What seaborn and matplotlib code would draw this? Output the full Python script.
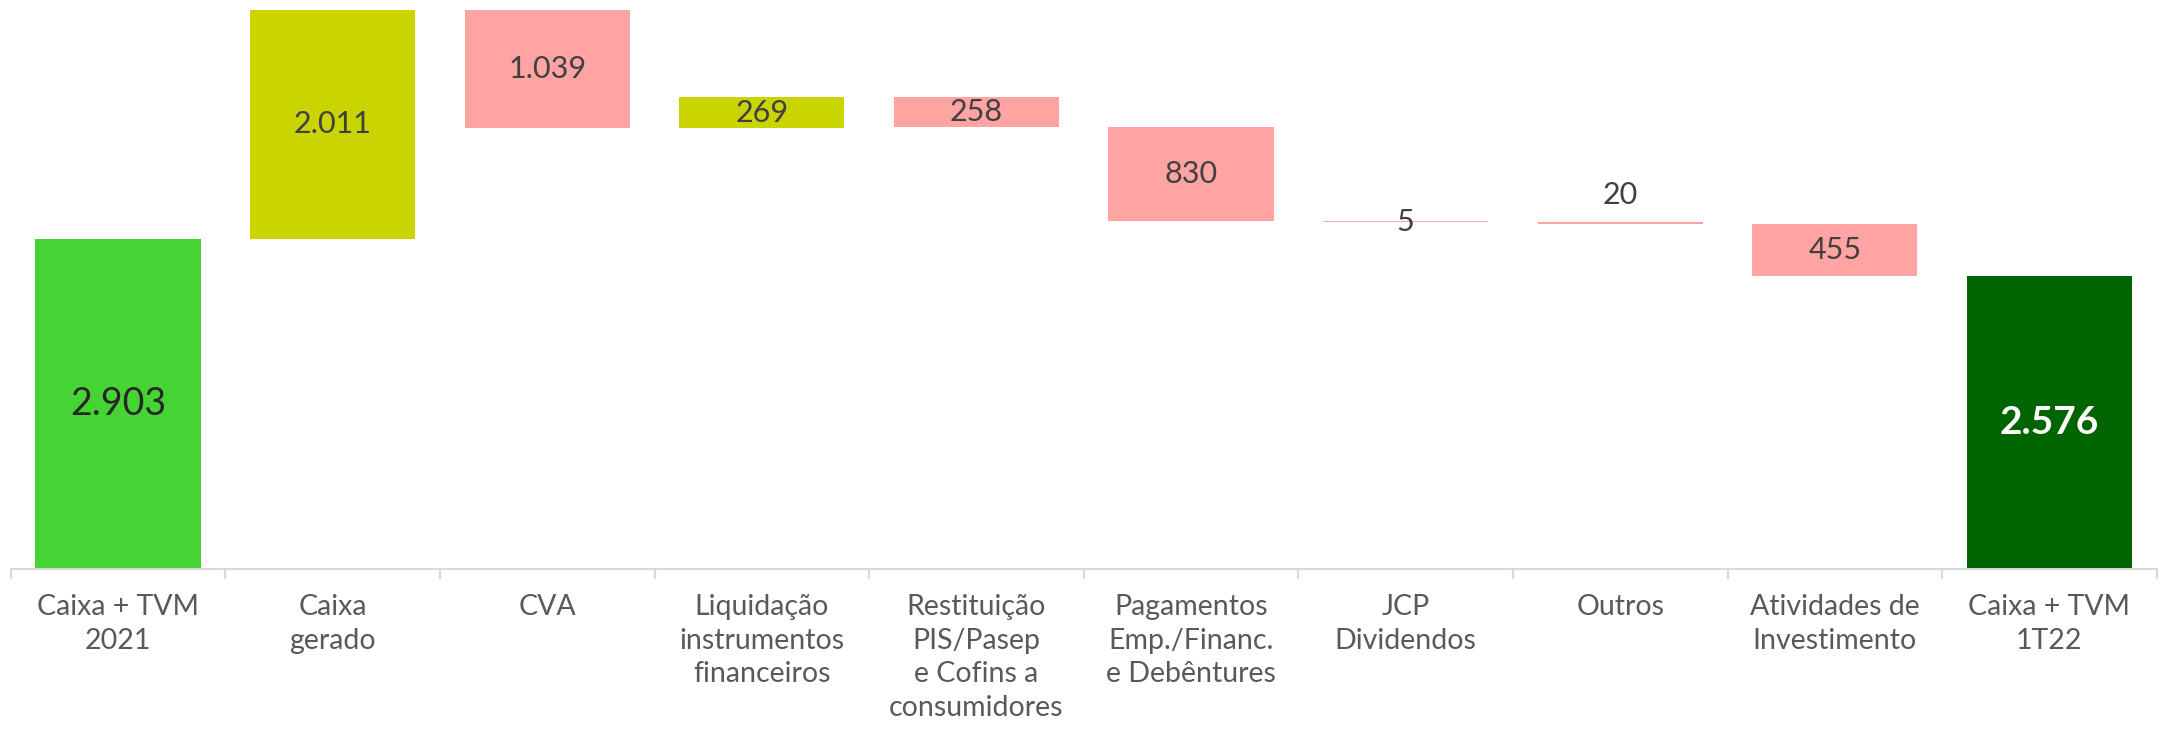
import numpy as np
import pandas as pd
import matplotlib
matplotlib.use("Agg")
import matplotlib.pyplot as plt
import seaborn as sns

categories = ["Caixa + TVM\n2021", "Caixa\ngerado", "CVA", "Liquidação\ninstrumentos\nfinanceiros",
              "Restituição\nPIS/Pasep\ne Cofins a\nconsumidores", "Pagamentos\nEmp./Financ.\ne Debêntures",
              "JCP\nDividendos", "Outros", "Atividades de\nInvestimento", "Caixa + TVM\n1T22"]
values = [2903, 2011, -1039, 269, -258, -830, -5, -20, -455, 2576]
kinds = ["start", "up", "down", "up", "down", "down", "down", "down", "down", "end"]
colors = {"start": "#46D435", "up": "#C9D400", "down": "#FFA3A3", "end": "#006400"}

# waterfall geometry from the values
bottoms, heights = [], []
level = 0
for v, k in zip(values, kinds):
    if k in ("start", "end"):
        bottoms.append(0)
        heights.append(v)
        level = v
    else:
        new = level + v
        bottoms.append(min(level, new))
        heights.append(abs(v))
        level = new

df = pd.DataFrame({"cat": categories, "height": heights})

sns.set_theme(style="white")
plt.rcParams["font.family"] = ["Lato", "DejaVu Sans"]

fig = plt.figure(figsize=(21.61, 7.29), dpi=100)
ax = fig.add_axes([0.005, 0.2195, 0.993, 0.7805])

sns.barplot(data=df, x="cat", y="height", order=categories, bottom=np.array(bottoms),
            width=0.77, ax=ax, errorbar=None, linewidth=0, color="#46D435", saturation=1)
for p, k in zip(ax.patches, kinds):
    p.set_facecolor(colors[k])
    p.set_edgecolor("none")

ax.set_ylim(0, 5000)
ax.set_xlim(-0.5, len(categories) - 0.5)
ax.set_xlabel("")
ax.set_ylabel("")
ax.set_yticks([])
for s in ["top", "right", "left"]:
    ax.spines[s].set_visible(False)
ax.spines["bottom"].set_color("#D9D9D9")
ax.spines["bottom"].set_linewidth(1.5)

ax.set_xticks(range(len(categories)))
ax.set_xticklabels(categories, fontsize=20.5, color="#595959", linespacing=1.36, va="top")
ax.tick_params(axis="x", which="major", length=0, pad=18)
ax.set_xticks(np.arange(-0.5, len(categories), 1.0), minor=True)
ax.tick_params(axis="x", which="minor", length=7, width=1.5, color="#D9D9D9", bottom=True)

for i, (v, k, b, h) in enumerate(zip(values, kinds, bottoms, heights)):
    txt = f"{abs(v):,}".replace(",", ".")
    if k == "start":
        ax.text(i, b + h / 2, txt, ha="center", va="center", fontsize=27, color="#262626")
    elif k == "end":
        ax.text(i, b + h / 2, txt, ha="center", va="center", fontsize=28, color="white", fontweight="bold")
    elif categories[i] == "Outros":
        ax.annotate(txt, (i, b + h), xytext=(0, 19), textcoords="offset points",
                    ha="center", va="center", fontsize=22, color="#404040")
    else:
        ax.text(i, b + h / 2, txt, ha="center", va="center", fontsize=22, color="#404040")

fig.savefig("out.png", dpi=100, facecolor="white")
